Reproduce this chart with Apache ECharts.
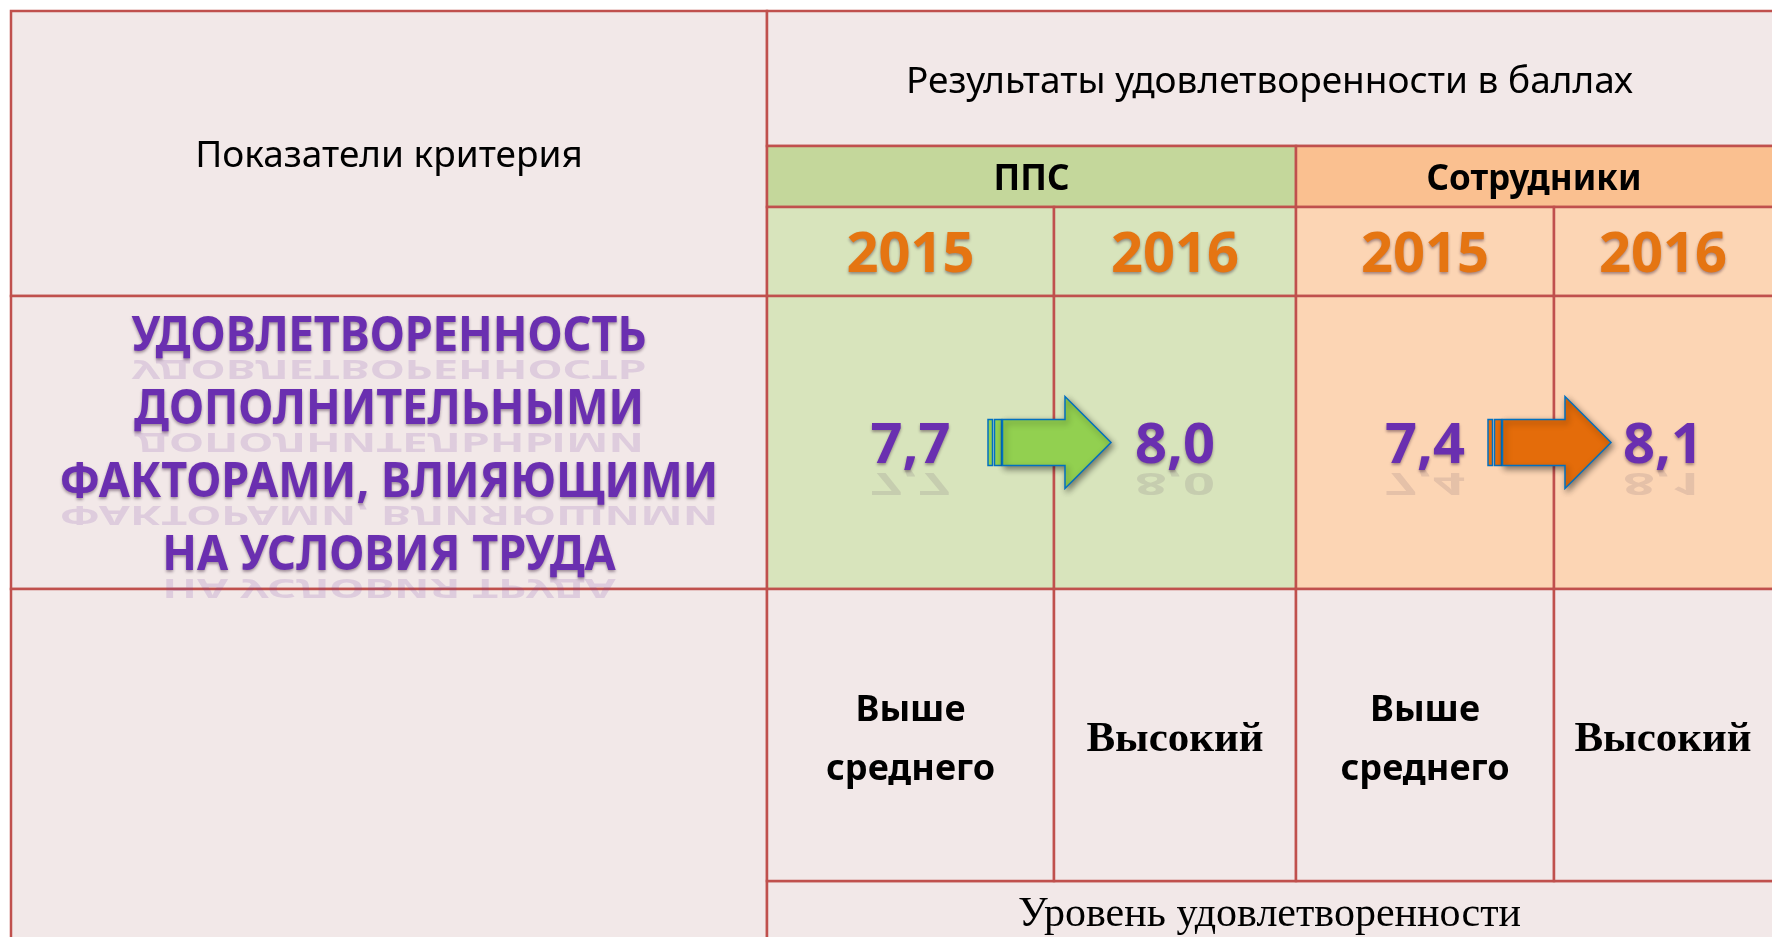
<!DOCTYPE html>
<html>
<head>
<meta charset="utf-8">
<script src="https://cdn.jsdelivr.net/npm/echarts@6/dist/echarts.min.js"></script>
<style>
  html, body { margin: 0; padding: 0; background: #fff; }
  #main { width: 1772px; height: 937px; }
</style>
</head>
<body>
<div id="main"></div>
<script>
// данные таблицы
const groups = ['ППС', 'Сотрудники'];
const years = ['2015', '2016'];
const scoresPPS = [7.7, 8.0];
const scoresStaff = [7.4, 8.1];
const levelsPPS = ['Выше\nсреднего', 'Высокий'];
const levelsStaff = ['Выше\nсреднего', 'Высокий'];
const criterionLines = ['УДОВЛЕТВОРЕННОСТЬ', 'ДОПОЛНИТЕЛЬНЫМИ', 'ФАКТОРАМИ, ВЛИЯЮЩИМИ', 'НА УСЛОВИЯ ТРУДА'];
const headLeft = 'Показатели критерия';
const headTop = 'Результаты удовлетворенности в баллах';
const footTitle = 'Уровень удовлетворенности';

// сетка таблицы (границы колонок и строк)
const colX = [11, 767, 1054, 1296, 1554, 1772];
const rowY = [11, 146, 207, 296, 589, 881, 937];

const PINK = '#F2E8E8';
const LINE = '#C0504D';
const PURPLE = '#6a2fb0';
const ORANGE = '#E57512';
const groupDark = ['#C4D79B', '#FAC090'];
const groupLight = ['#D8E4BC', '#FCD5B4'];
const arrowFill = ['#92D050', '#E46C0A'];

const chart = echarts.init(document.getElementById('main'));

// ячейки: [col0, col1, row0, row1, fill]
let cells = [
  [0, 1, 0, 3, PINK],
  [1, 5, 0, 1, PINK],
  [0, 1, 3, 4, PINK],
  [0, 1, 4, 6, PINK],
  [1, 5, 5, 6, PINK]
];
groups.forEach((g, gi) => {
  let c = 1 + gi * 2;
  cells.push([c, c + 2, 1, 2, groupDark[gi]]);
  years.forEach((y, yi) => {
    cells.push([c + yi, c + yi + 1, 2, 3, groupLight[gi]]);
    cells.push([c + yi, c + yi + 1, 3, 4, groupLight[gi]]);
    cells.push([c + yi, c + yi + 1, 4, 5, PINK]);
  });
});

function colMid(c0, c1) { return (colX[c0] + colX[c1]) / 2; }
function rowMid(r0, r1) { return (rowY[r0] + rowY[r1]) / 2; }

// тексты заголовков: [x, y, text, kind]
let headTexts = [
  [colMid(0, 1), rowMid(0, 3) + 3, headLeft, 'head'],
  [colMid(1, 5), rowMid(0, 1) + 4, headTop, 'head'],
  [colMid(1, 5), rowY[5] + 34, footTitle, 'foot']
];
groups.forEach((g, gi) => {
  headTexts.push([colMid(1 + gi * 2, 3 + gi * 2), rowMid(1, 2) + 4, g, 'group']);
});

let yearItems = [];
let scoreItems = [];
let levelItems = [];
let arrowItems = [];
[scoresPPS, scoresStaff].forEach((arr, gi) => {
  let lv = gi === 0 ? levelsPPS : levelsStaff;
  years.forEach((y, yi) => {
    let c = 1 + gi * 2 + yi;
    yearItems.push([colMid(c, c + 1), rowMid(2, 3) + 5, y]);
    scoreItems.push([colMid(c, c + 1), rowMid(3, 4) + 5, arr[yi]]);
    levelItems.push([colMid(c, c + 1), rowMid(4, 5) + 5, lv[yi], yi]);
  });
  arrowItems.push([colX[2 + gi * 2], rowMid(3, 4), gi]);
});

// крупный текст с тенью и (опционально) отражением
function bigText(p, text, size, fill, reflect, scaleX) {
  let els = [];
  let font = 'bold ' + size + 'px "Noto Sans"';
  if (reflect) {
    let s = 0.55;
    els.push({
      type: 'text', x: p[0], y: p[1] + size * 0.36 * (1 + s) + 3, scaleX: scaleX, scaleY: -s,
      style: { text: text, fill: reflect, align: 'center', verticalAlign: 'middle', font: font }
    });
  }
  els.push({
    type: 'text', x: p[0], y: p[1], scaleX: scaleX,
    style: {
      text: text, fill: fill, align: 'center', verticalAlign: 'middle', font: font,
      textShadowColor: 'rgba(40,10,40,0.4)', textShadowBlur: 3, textShadowOffsetY: 2
    }
  });
  return els;
}

const option = {
  animation: false,
  backgroundColor: '#ffffff',
  grid: { left: 0, right: 0, top: 0, bottom: 0 },
  xAxis: { type: 'value', min: 0, max: 1772, show: false },
  yAxis: { type: 'value', min: 0, max: 937, inverse: true, show: false },
  series: [
    {
      name: 'table', type: 'custom', data: cells.map((c, i) => [i]),
      renderItem(params, api) {
        let c = cells[params.dataIndex];
        let x1 = colX[c[1]] + (c[1] === colX.length - 1 ? 10 : 0);
        let y1 = rowY[c[3]] + (c[3] === rowY.length - 1 ? 10 : 0);
        let a = api.coord([colX[c[0]], rowY[c[2]]]);
        let b = api.coord([x1, y1]);
        return {
          type: 'rect',
          shape: { x: a[0], y: a[1], width: b[0] - a[0], height: b[1] - a[1] },
          style: { fill: c[4], stroke: LINE, lineWidth: 2.5 }
        };
      }
    },
    {
      name: 'heads', type: 'custom', data: headTexts.map(t => [t[0], t[1]]),
      renderItem(params, api) {
        let t = headTexts[params.dataIndex];
        let p = api.coord([t[0], t[1]]);
        let font = '37px "Noto Sans"';
        if (t[3] === 'group') font = 'bold 35px "Noto Sans"';
        if (t[3] === 'foot') font = '42px "Liberation Serif"';
        return {
          type: 'text', x: p[0], y: p[1],
          style: { text: t[2], fill: '#000', align: 'center', verticalAlign: 'middle', font: font }
        };
      }
    },
    {
      name: 'criterion', type: 'custom', data: criterionLines.map((s, i) => [i]),
      renderItem(params, api) {
        let i = params.dataIndex;
        let p = api.coord([colMid(0, 1), rowMid(3, 4) + 4 + (i - 1.5) * 73]);
        return { type: 'group', children: bigText(p, criterionLines[i], 49, PURPLE, 'rgba(120,60,170,0.16)', 0.92) };
      }
    },
    {
      name: 'years', type: 'custom', data: yearItems.map(t => [t[0], t[1]]),
      renderItem(params, api) {
        let t = yearItems[params.dataIndex];
        let p = api.coord([t[0], t[1]]);
        return { type: 'group', children: bigText(p, t[2], 56, ORANGE, null, 1) };
      }
    },
    {
      name: 'scores', type: 'custom', data: scoreItems.map(t => [t[0], t[1], t[2]]),
      renderItem(params, api) {
        let t = scoreItems[params.dataIndex];
        let p = api.coord([t[0], t[1]]);
        let label = t[2].toFixed(1).replace('.', ',');
        return { type: 'group', children: bigText(p, label, 56, PURPLE, 'rgba(90,70,100,0.14)', 1) };
      }
    },
    {
      name: 'arrows', type: 'custom', data: arrowItems.map(t => [t[0], t[1]]),
      renderItem(params, api) {
        let t = arrowItems[params.dataIndex];
        let bx = t[0], cy = t[1];
        let pt = (dx, dy) => api.coord([bx + dx, cy + dy]);
        let body = [pt(-51.5, -23), pt(11, -23), pt(11, -46), pt(57, 0), pt(11, 46), pt(11, 23), pt(-51.5, 23)];
        let st = { fill: arrowFill[t[2]], stroke: '#0070C0', lineWidth: 1.5 };
        let strip = (x0, x1) => {
          let a = pt(x0, -23), b = pt(x1, 23);
          return { type: 'rect', shape: { x: a[0], y: a[1], width: b[0] - a[0], height: b[1] - a[1] }, style: st };
        };
        return {
          type: 'group',
          children: [
            strip(-66, -61.5),
            strip(-59.5, -52.5),
            {
              type: 'polygon', shape: { points: body },
              style: Object.assign({ shadowColor: 'rgba(0,0,0,0.45)', shadowBlur: 6, shadowOffsetX: 2, shadowOffsetY: 3 }, st)
            }
          ]
        };
      }
    },
    {
      name: 'levels', type: 'custom', data: levelItems.map(t => [t[0], t[1]]),
      renderItem(params, api) {
        let t = levelItems[params.dataIndex];
        let p = api.coord([t[0], t[1]]);
        let serif = t[3] === 1;
        return {
          type: 'text', x: p[0], y: p[1],
          style: {
            text: t[2], fill: '#000', align: 'center', verticalAlign: 'middle',
            font: serif ? 'bold 43px "Liberation Serif"' : 'bold 36px "Noto Sans"',
            lineHeight: serif ? 48 : 59
          }
        };
      }
    }
  ]
};

chart.setOption(option);
</script>
</body>
</html>
